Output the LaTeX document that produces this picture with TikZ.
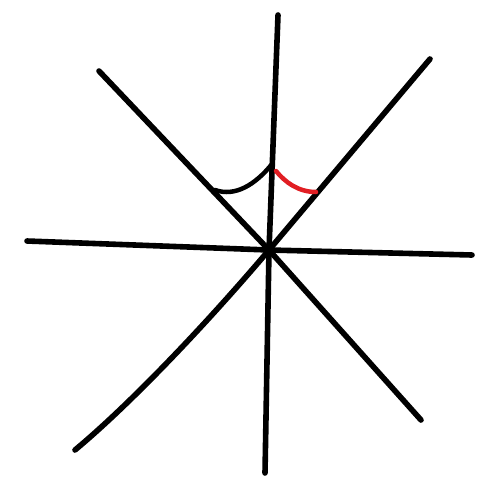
\documentclass[tikz,border=0pt]{standalone}
\begin{document}
\begin{tikzpicture}[x=1pt,y=-1pt,
  stroke/.style={line width=5.6pt,line cap=round,line join=round,black},
  arcline/.style={line width=4.5pt,line cap=round}]
\definecolor{arcred}{RGB}{225,30,35}
\useasboundingbox (0,0) rectangle (500,477);
\coordinate (c) at (269,250);
\coordinate (top) at (278,15);
\coordinate (bot) at (265,473);
\coordinate (left) at (27,241);
\coordinate (right) at (472,255);
\coordinate (tl) at (99,71);
\coordinate (br) at (421,420);
\coordinate (tr) at (430,59);
\coordinate (bl) at (75,450);
\draw[stroke] (top) -- (c) -- (bot);
\draw[stroke] (left) -- (c) -- (right);
\draw[stroke] (tl) -- (c) -- (br);
\draw[stroke] (tr) -- (c) .. controls (214,315) and (135,400) .. (bl);
\coordinate (a1) at (215,190);
\coordinate (a2) at (272,164);
\coordinate (r1) at (276,171);
\coordinate (r2) at (316,192);
\draw[arcline,black] (a1) .. controls (235,197) and (255,185) .. (a2);
\draw[arcline,arcred] (r1) .. controls (285,182) and (298,192) .. (r2);
\end{tikzpicture}
\end{document}
